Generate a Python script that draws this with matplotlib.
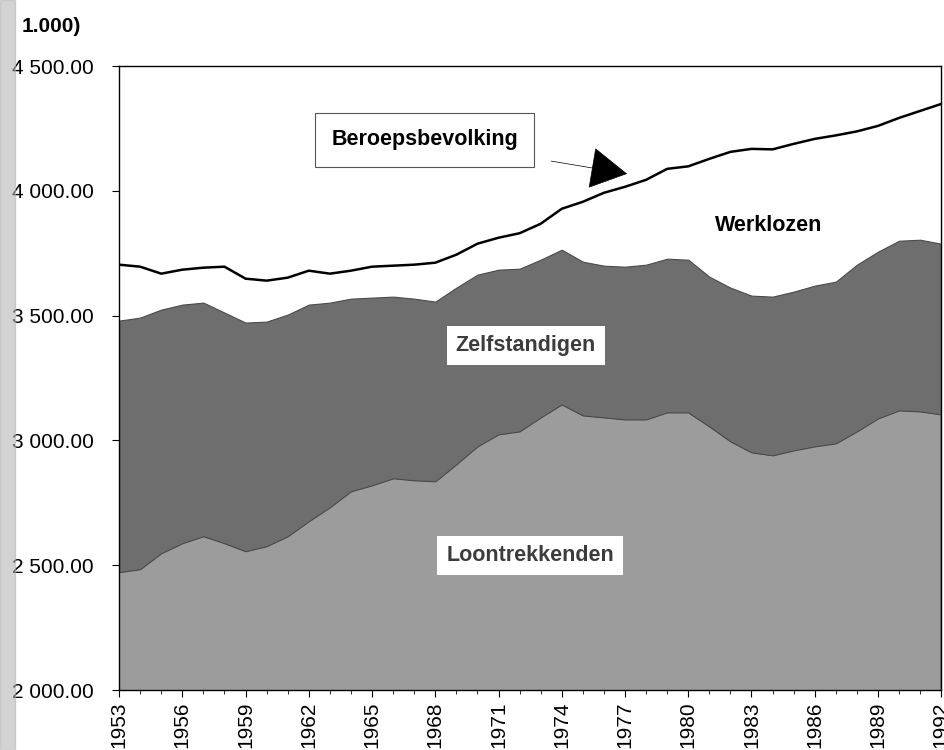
import numpy as np
import matplotlib.pyplot as plt
from matplotlib.patches import Rectangle
from matplotlib.ticker import FuncFormatter, MultipleLocator

plt.rcParams['font.family'] = ['Liberation Sans', 'DejaVu Sans']

years = list(range(1953, 1993))
loontrekkenden = [2472, 2484, 2548, 2588, 2616, 2588, 2556, 2576, 2616, 2676,
                  2732, 2796, 2820, 2848, 2840, 2836, 2904, 2976, 3024, 3036,
                  3092, 3144, 3100, 3092, 3084, 3084, 3112, 3112, 3056, 2996,
                  2952, 2940, 2960, 2976, 2988, 3036, 3088, 3120, 3116, 3104]
zelfstandigen = [1008, 1008, 976, 956, 936, 924, 916, 900, 888, 868,
                 820, 772, 752, 728, 728, 720, 708, 688, 660, 652,
                 632, 620, 616, 608, 612, 620, 616, 612, 600, 616,
                 628, 636, 636, 644, 648, 668, 668, 680, 688, 684]
werklozen = [224, 204, 144, 140, 140, 184, 176, 164, 148, 136,
             116, 112, 124, 124, 136, 156, 132, 124, 128, 142,
             144, 164, 240, 292, 320, 340, 360, 374, 472, 544,
             588, 590, 592, 588, 586, 534, 504, 492, 516, 560]

beroepsbevolking = np.array(loontrekkenden) + np.array(zelfstandigen) + np.array(werklozen)

fig = plt.figure(figsize=(9.45, 7.5), dpi=100)
ax = fig.add_axes([0.126, 0.08, 0.870, 0.832])

ax.stackplot(years, loontrekkenden, zelfstandigen,
             colors=['#9c9c9c', '#6e6e6e'], edgecolor='#4a4a4a', linewidth=0.8)
ax.plot(years, beroepsbevolking, color='black', lw=1.8)

ax.set_xlim(1953, 1992)
ax.set_ylim(2000, 4500)
ax.yaxis.set_major_locator(MultipleLocator(500))
ax.yaxis.set_major_formatter(FuncFormatter(lambda v, p: f'{v:,.2f}'.replace(',', ' ')))
ax.set_xticks(years[::3])
ax.set_xticklabels([str(y) for y in years[::3]], rotation=90)
ax.xaxis.set_minor_locator(MultipleLocator(1))
ax.tick_params(axis='both', labelsize=15, direction='out', length=5, width=0.8)
ax.tick_params(axis='y', pad=13)
ax.tick_params(axis='x', which='minor', length=3, width=0.6)
for s in ax.spines.values():
    s.set_linewidth(1)

# labels in de grafiek
ax.text(1972.3, 3380, 'Zelfstandigen', fontsize=15.5, fontweight='bold', color='#3c3c3c',
        ha='center', va='center',
        bbox=dict(boxstyle='square,pad=0.4', fc='white', ec='none'))
ax.text(1972.5, 2540, 'Loontrekkenden', fontsize=15.5, fontweight='bold', color='#3c3c3c',
        ha='center', va='center',
        bbox=dict(boxstyle='square,pad=0.42', fc='white', ec='none'))
ax.text(1983.8, 3860, 'Werklozen', fontsize=15.5, fontweight='bold', color='black',
        ha='center', va='center')
ax.annotate('Beroepsbevolking', xy=(1977.1, 4068), xytext=(1967.5, 4204),
            fontsize=15.5, fontweight='bold', ha='center', va='center',
            bbox=dict(boxstyle='square,pad=0.75', fc='white', ec='#555555', lw=0.8),
            arrowprops=dict(arrowstyle='-|>,head_length=1.6,head_width=0.9',
                            color='black', lw=0.5, shrinkA=12, shrinkB=0))

fig.text(0.023, 0.964, '1.000)', fontsize=15, fontweight='bold', ha='left', va='center')

# schaduw van de scan links
fig.add_artist(Rectangle((0, 0), 0.016, 1, transform=fig.transFigure,
                         color='#b0b0b0', alpha=0.55, zorder=10))

fig.savefig('out.png', dpi=100)
